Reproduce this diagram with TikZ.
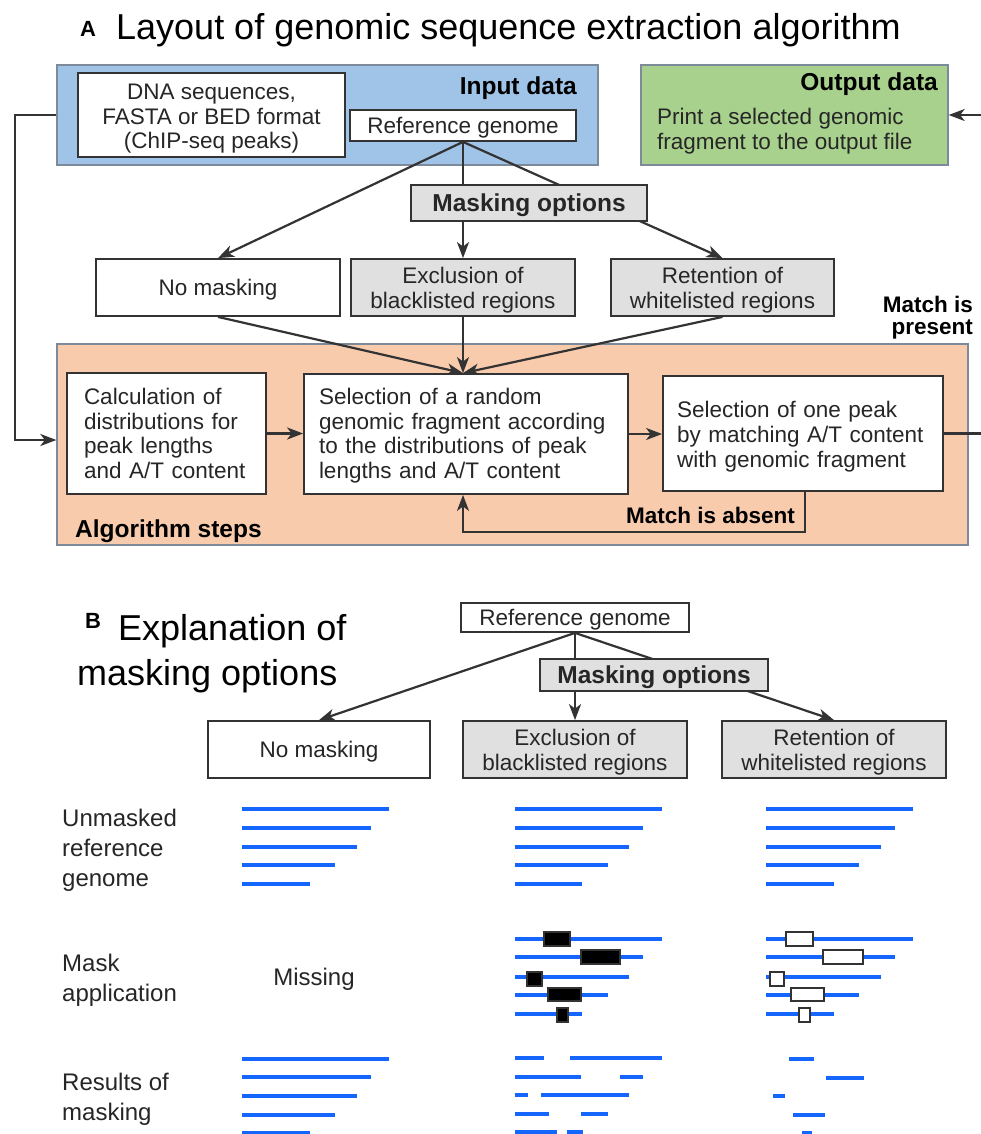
\documentclass[tikz,border=0pt]{standalone}
\usepackage{fontspec}
\setmainfont{Liberation Sans}
\usetikzlibrary{arrows.meta}
\definecolor{lc}{HTML}{333333}
\definecolor{tc}{HTML}{262626}
\definecolor{pblue}{HTML}{9FC4E7}
\definecolor{pgreen}{HTML}{A9D18E}
\definecolor{porange}{HTML}{F8CBAD}
\definecolor{pedge}{HTML}{7C8A99}
\definecolor{bgray}{HTML}{E0E0E0}
\definecolor{mblue}{HTML}{1466FF}
\newcommand\rfont{\fontsize{22.5}{24.5}\selectfont}
\newcommand\bfont{\fontsize{24.5}{27}\selectfont\bfseries}
\newcommand\mfont{\fontsize{22.5}{22}\selectfont\bfseries}
\newcommand\tfont{\fontsize{36}{45}\selectfont}
\newcommand\lfont{\fontsize{24}{29.7}\selectfont}
\newcommand\pfont{\fontsize{22}{24}\selectfont\bfseries}
\pgfdeclarelayer{bg}\pgfdeclarelayer{mid}\pgfsetlayers{bg,mid,main}
\begin{document}
\begin{tikzpicture}[x=1pt,y=-1pt,
 wbox/.style={draw=lc,line width=1.8pt,fill=white,inner sep=0pt,align=center,font=\rfont,text=tc,text height=21.5pt},
 gbox/.style={wbox,fill=bgray},
 twoline/.style={text height=46pt},
 mbox/.style={gbox,font=\bfont,text height=23pt},
 panel/.style={draw=pedge,line width=1.3pt,inner sep=0pt},
 ln/.style={draw=lc,line width=2.2pt},
 arr/.style={ln,-{Stealth[length=16pt,width=12pt,inset=4.5pt]}},
 lbl/.style={inner sep=0pt,font=\bfont,text=black},
 txt/.style={inner sep=0pt,font=\rfont,text=tc,align=left},
 bline/.style={draw=mblue,line width=4pt},
 blk/.style={fill=black,draw=lc,line width=1.2pt},
 wht/.style={fill=white,draw=lc,line width=2pt}]
\begin{pgfonlayer}{bg}
\fill[white] (0,0) rectangle (980,1134);
\end{pgfonlayer}
\useasboundingbox (0,0) rectangle (980,1134);

% ---------------- Panel A ----------------
\node[inner sep=0pt,font=\pfont,anchor=base west] (tA) at (80,37) {A};
\node[inner sep=0pt,font=\tfont,text=black,anchor=base west] (tAt) at (116,40) {Layout of genomic sequence extraction algorithm};

\begin{pgfonlayer}{bg}
\node[panel,fill=pblue,minimum width=541pt,minimum height=100pt] (inp) at (327.5,115) {};
\node[panel,fill=pgreen,minimum width=307pt,minimum height=100pt] (out) at (794.5,115) {};
\node[panel,fill=porange,minimum width=911pt,minimum height=201pt] (alg) at (512.5,444.5) {};
\end{pgfonlayer}

\node[lbl,anchor=base east] (inlbl) at (577,95) {Input data};
\node[lbl,anchor=base east] (outlbl) at (938,91) {Output data};
\node[txt,anchor=west] (outtxt) at (657,131) {Print a selected genomic\\fragment to the output file};

\node[wbox,minimum width=267pt,minimum height=84pt,text height=72pt] (dna) at (211.5,115) {DNA sequences,\\FASTA or BED format\\(ChIP-seq peaks)};
\node[wbox,minimum width=226pt,minimum height=31pt] (refA) at (463,125.5) {Reference genome};
\node[mbox,minimum width=236pt,minimum height=36pt] (maskA) at (529,203) {Masking options};
\node[wbox,minimum width=244pt,minimum height=57pt] (nomA) at (218,287.5) {No masking};
\node[gbox,twoline,minimum width=224pt,minimum height=57pt] (exA) at (463,287.5) {Exclusion of\\blacklisted regions};
\node[gbox,twoline,minimum width=223pt,minimum height=57pt] (retA) at (722.5,287.5) {Retention of\\whitelisted regions};

\node[inner sep=0pt,font=\mfont,align=right,anchor=east] (mpres) at (973,318) {Match is\\present};

\node[wbox,align=left,inner xsep=17pt,text width=165pt,minimum height=121pt,text height=16.5pt] (calc) at (166.5,433.5) {Calculation of\\distributions for\\peak lengths\\and A/T content};
\node[wbox,align=left,inner xsep=15pt,text width=294pt,minimum height=120pt,text height=19.5pt] (sel) at (466,434) {Selection of a random\\genomic fragment according\\to the distributions of peak\\lengths and A/T content};
\node[wbox,align=left,inner xsep=14pt,text width=252pt,minimum height=115pt,font=\fontsize{22.5}{25}\selectfont,text height=22.5pt] (one) at (803,433.5) {Selection of one peak\\by matching A/T content\\with genomic fragment};

\node[lbl,anchor=base west] (algl) at (75,537) {Algorithm steps};
\node[inner sep=0pt,font=\mfont,anchor=base east] (mabs) at (795,523) {Match is absent};

\coordinate (fbL) at (15,440);
\coordinate (fbR) at (982,115);
\coordinate (lp) at (805,532);

\begin{pgfonlayer}{mid}
\draw[arr] (refA.south) -- (nomA.north);
\draw[arr] (refA.south) -- (exA.north);
\draw[arr] (refA.south) -- (retA.north);
\draw[arr] (nomA.south) -- (sel.north -| refA.south);
\draw[arr] (exA.south) -- (sel.north -| refA.south);
\draw[arr] (retA.south) -- (sel.north -| refA.south);
\draw[arr] (inp.west) -| (fbL) -- (fbL -| alg.west);
\draw[arr] (calc.east) -- (calc.east -| sel.west);
\draw[arr] (sel.east) -- (sel.east -| one.west);
\draw[arr] (one.east) -| (fbR) -- (out.east);
\draw[arr] (lp |- one.south) -- (lp) -| (sel.south -| refA.south);
\end{pgfonlayer}

% ---------------- Panel B ----------------
\node[inner sep=0pt,font=\pfont,anchor=base west] (tB) at (85,628) {B};
\node[inner sep=0pt,font=\tfont,text=black,anchor=base west] (tB1) at (118,640) {Explanation of};
\node[inner sep=0pt,font=\tfont,text=black,anchor=base west] (tB2) at (77,685) {masking options};

\node[wbox,minimum width=228pt,minimum height=29pt] (refB) at (575,617.5) {Reference genome};
\node[mbox,minimum width=228pt,minimum height=32pt] (maskB) at (654,675) {Masking options};
\node[wbox,minimum width=222pt,minimum height=57pt] (nomB) at (319,749.5) {No masking};
\node[gbox,twoline,minimum width=224pt,minimum height=57pt] (exB) at (575,749.5) {Exclusion of\\blacklisted regions};
\node[gbox,twoline,minimum width=224pt,minimum height=57pt] (retB) at (834,749.5) {Retention of\\whitelisted regions};

\begin{pgfonlayer}{mid}
\draw[arr] (refB.south) -- (nomB.north);
\draw[arr] (refB.south) -- (exB.north);
\draw[arr] (refB.south) -- (retB.north);
\end{pgfonlayer}

\node[inner sep=0pt,font=\lfont,text=tc,align=left,anchor=north west] (r1) at (62,809) {Unmasked\\reference\\genome};
\node[inner sep=0pt,font=\lfont,text=tc,align=left,anchor=north west] (r2) at (62,954) {Mask\\application};
\node[inner sep=0pt,font=\lfont,text=tc,align=left,anchor=north west] (r3) at (62,1073) {Results of\\masking};
\node[inner sep=0pt,font=\fontsize{24}{28}\selectfont,text=tc,anchor=base] (miss) at (314,985) {Missing};

% blue sequence lines
\foreach \y/\e in {809/389,828/371,847/357,865/335,884/310} \draw[bline] (242,\y) -- (\e,\y);
\foreach \y/\e in {1059/389,1077/371,1096/357,1115/335,1133/310} \draw[bline] (242,\y) -- (\e,\y);
\foreach \y/\e in {809/662,828/643,847/629,865/608,884/582} \draw[bline] (515,\y) -- (\e,\y);
\foreach \y/\e in {939/662,957/643,977/629,995/608,1014/582} \draw[bline] (515,\y) -- (\e,\y);
\foreach \y/\e in {809/913,828/895,847/881,865/859,884/834} \draw[bline] (766,\y) -- (\e,\y);
\foreach \y/\e in {939/913,957/895,977/881,995/859,1014/834} \draw[bline] (766,\y) -- (\e,\y);
% results of exclusion
\foreach \y/\a/\b in {1058/515/544,1058/570/662,1077/515/581,1077/620/643,1095/515/528,1095/541/629,1114/515/549,1114/581/608,1132/515/557,1132/567/583}
  \draw[bline] (\a,\y) -- (\b,\y);
% results of retention
\foreach \y/\a/\b in {1059/789/814,1078/826/864,1096/773/785,1115/793/825,1133/802/812}
  \draw[bline] (\a,\y) -- (\b,\y);
% masks
\foreach \a/\b/\c/\d in {544/932/570/946,581/950/620/964,527/972/542/986,548/988/581/1001,557/1008/568/1022}
  \draw[blk] (\a,\b) rectangle (\c,\d);
\foreach \a/\b/\c/\d in {786/932/813/946,823/950/863/964,770/972/784/986,791/988/824/1001,799/1008/810/1022}
  \draw[wht] (\a,\b) rectangle (\c,\d);
\end{tikzpicture}
\end{document}
